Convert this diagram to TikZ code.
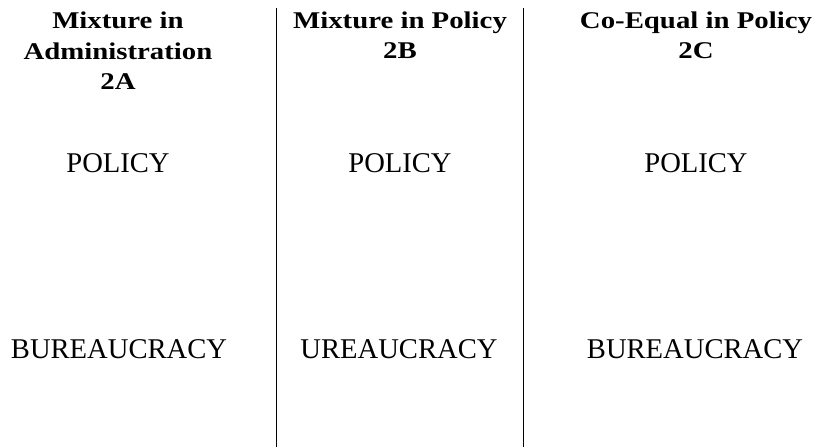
\documentclass[tikz,border=0pt]{standalone}
\usepackage{fontspec}
\setmainfont{Liberation Serif}
\newfontfamily\headfont{Liberation Serif}[FakeStretch=1.2]
\usetikzlibrary{positioning}

\begin{document}
\begin{tikzpicture}[x=1pt, y=1pt,
            every node/.style={inner sep=0pt},
            head/.style={font=\headfont\bfseries\fontsize{24}{30.5}\selectfont, align=center, anchor=base},
            word/.style={font=\fontsize{28.6}{33}\selectfont, anchor=base},
            rule/.style={draw, line width=0.9pt}]
        \useasboundingbox (0,0) rectangle (827,447);

        % column headers (base = last line)
        \node[head] (hA) at (118,357) {Mixture in\\Administration\\2A};
        \node[head] (hB) at (400,388) {Mixture in Policy\\2B};
        \node[head] (hC) at (696,388) {Co-Equal in Policy\\2C};

        % policy row
        \node[word] (pA) at (118,274) {POLICY};
        \node[word] (pB) at (400,274) {POLICY};
        \node[word] (pC) at (696,274) {POLICY};

        % bureaucracy row
        \node[word] (bA) at (119,88) {BUREAUCRACY};
        \node[word] (bB) at (399,88) {UREAUCRACY};
        \node[word] (bC) at (695,88) {BUREAUCRACY};

        % separators
        \coordinate (top1) at (276,439);
        \coordinate (bot1) at (276,0);
        \coordinate (top2) at (523,439);
        \coordinate (bot2) at (523,0);
        \draw[rule] (top1) -- (bot1);
        \draw[rule] (top2) -- (bot2);
\end{tikzpicture}
\end{document}
